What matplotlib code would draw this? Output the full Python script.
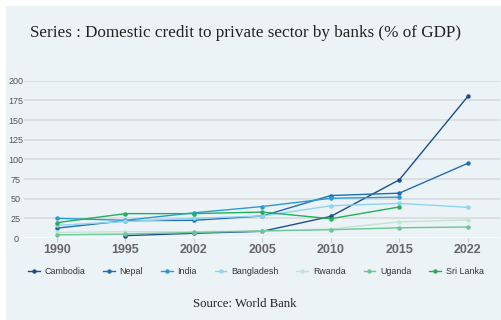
import matplotlib.pyplot as plt
import numpy as np
from matplotlib.patches import Rectangle

years = ['1990', '1995', '2002', '2005', '2010', '2015', '2022']
countries = ['Cambodia', 'Nepal', 'India', 'Bangladesh', 'Rwanda', 'Uganda', 'Sri Lanka']

cambodia = [np.nan, 3, 6, 8.5, 27.5, 74, 180]
nepal = [12.5, 22, 22.5, 28, 54, 57, 95]
india = [25, 22.5, 32, 40, 50.5, 52, np.nan]
bangladesh = [16, 21, 25, 28, 41, 44, 39]
rwanda = [7, 8, 8, 9, 11.5, 20.5, 23]
uganda = [4, 5, 7, 9, 10.5, 13, 14]
sri_lanka = [19.5, 31, 31, 33, 24.5, 39.5, np.nan]

series = [cambodia, nepal, india, bangladesh, rwanda, uganda, sri_lanka]
colors = ['#1d4e89', '#1f6db5', '#2a9ad6', '#8dd3f2', '#c0e5d2', '#6cc596', '#22b05a']

fig = plt.figure(figsize=(5.02, 3.2), dpi=100)
fig.patch.set_facecolor('white')

# light panel behind everything
fig.patches.append(Rectangle((6 / 502, 0), 1, 1 - 6 / 320, transform=fig.transFigure,
                             facecolor='#ecf3f7', edgecolor='none', zorder=-10))

ax = fig.add_axes([24 / 502, 1 - 238 / 320, 476 / 502, (238 - 80.7) / 320])
ax.set_facecolor('none')

x = np.arange(len(years))
for name, vals, c in zip(countries, series, colors):
    ax.plot(x, vals, color=c, lw=1.0, marker='o', markersize=2.2, label=name, zorder=3)

ax.set_xlim(-0.48, 6.47)
ax.set_ylim(0, 200)

yt = np.arange(0, 201, 25)
for v in yt[1:]:
    ax.axhline(v, color='#d8dbdd', lw=1.2, zorder=1)
ax.axhline(0, color='#fafcfd', lw=1.3, zorder=1)

ax.set_yticks(yt)
ax.set_yticklabels([str(v) for v in yt], fontsize=6.5, color='#555555',
                   fontfamily='Liberation Sans', ha='center')
ax.tick_params(axis='y', length=0, pad=5.8)

ax.set_xticks(x)
ax.set_xticklabels(years, fontsize=9, color='#666666', fontweight='bold',
                   fontfamily='Liberation Sans')
ax.tick_params(axis='x', length=3, color='#cccccc', width=0.8, pad=1.2)

for s in ax.spines.values():
    s.set_visible(False)

fig.text(30 / 502, 1 - 33 / 320, 'Series : Domestic credit to private sector by banks (% of GDP)',
         fontsize=12.3, fontfamily='Liberation Serif', color='#222222', va='center', ha='left')

fig.text(245 / 502, 1 - 304 / 320, 'Source: World Bank', fontsize=9.2,
         fontfamily='Liberation Serif', color='#222222', ha='center', va='center')

leg = fig.legend(loc='center left', bbox_to_anchor=(28 / 502, 1 - 272 / 320), ncol=7,
                 frameon=False, handlelength=1.3, handletextpad=0.56,
                 columnspacing=2.0, borderpad=0, borderaxespad=0,
                 prop={'family': 'Liberation Sans', 'size': 6.4})
for t in leg.get_texts():
    t.set_color('#333333')

fig.savefig('out.png', dpi=100)
